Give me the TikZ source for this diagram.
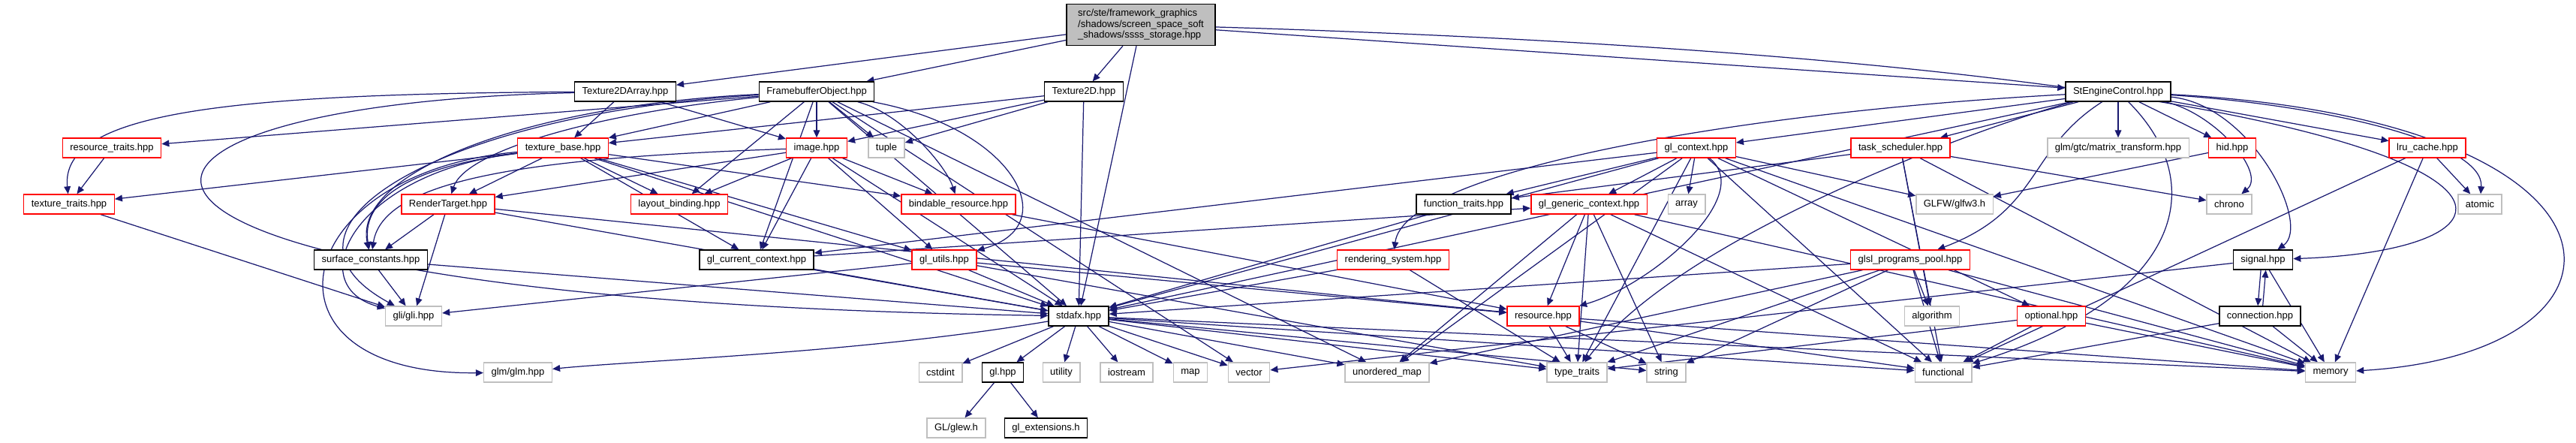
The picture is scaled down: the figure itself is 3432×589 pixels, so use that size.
\documentclass[tikz,border=0pt]{standalone}
\usepackage{fontspec}
\setmainfont{Liberation Sans}
\usepackage{tikz}
\usetikzlibrary{positioning,arrows.meta}
\definecolor{edgeblue}{RGB}{25,25,112}
\definecolor{grey75}{RGB}{191,191,191}
\pgfdeclarelayer{edges}
\pgfsetlayers{edges,main}

\begin{document}
\begin{tikzpicture}[x=0.02cm,y=-0.02cm,font=\fontsize{7.4}{8.2}\selectfont,
  file/.style={draw,fill=white,line width=0.8pt,inner xsep=0.2cm,inner ysep=0pt,minimum height=0.52cm},
  doc/.style={file,draw=black},
  trunc/.style={file,draw=red},
  sys/.style={file,draw=grey75},
  rootbox/.style={file,draw=black,fill=grey75,align=left,minimum width=3.96cm,minimum height=1.1cm},
  arr/.style={-{Triangle[length=5.7pt,width=5pt]},edgeblue,line width=0.7pt}]
\useasboundingbox (0,0) rectangle (3432,589);
\node[rootbox] (root) at (1520,33) {src/ste/framework\_graphics\\/shadows/screen\_space\_soft\\\_shadows/ssss\_storage.hpp};
\node[doc] (t2da) at (833,122) {Texture2DArray.hpp};
\node[doc] (fbo) at (1088,122) {FramebufferObject.hpp};
\node[doc] (t2d) at (1444,122) {Texture2D.hpp};
\node[doc] (sec) at (2822,122) {StEngineControl.hpp};
\node[trunc] (rtr) at (149,197) {resource\_traits.hpp};
\node[trunc] (tbase) at (750,197) {texture\_base.hpp};
\node[trunc] (image) at (1088,197) {image.hpp};
\node[sys] (tuple) at (1181,197) {tuple};
\node[trunc] (glctx) at (2260,197) {gl\_context.hpp};
\node[trunc] (tsched) at (2532,197) {task\_scheduler.hpp};
\node[sys] (mtx) at (2822,197) {glm/gtc/matrix\_transform.hpp};
\node[trunc] (hid) at (2974,197) {hid.hpp};
\node[trunc] (lru) at (3234,197) {lru\_cache.hpp};
\node[trunc] (ttr) at (92,272) {texture\_traits.hpp};
\node[trunc] (rt) at (597,272) {RenderTarget.hpp};
\node[trunc] (lb) at (905,272) {layout\_binding.hpp};
\node[trunc] (bres) at (1277,272) {bindable\_resource.hpp};
\node[doc] (ftr) at (1950,272) {function\_traits.hpp};
\node[trunc] (ggc) at (2117,272) {gl\_generic\_context.hpp};
\node[sys] (array) at (2247,272) {array};
\node[sys] (glfw) at (2604,272) {GLFW/glfw3.h};
\node[sys] (chrono) at (2970,272) {chrono};
\node[sys] (atomic) at (3304,272) {atomic};
\node[doc] (sc) at (494,346) {surface\_constants.hpp};
\node[doc] (gcc) at (1008,346) {gl\_current\_context.hpp};
\node[trunc] (glu) at (1258,346) {gl\_utils.hpp};
\node[trunc] (rsys) at (1856,346) {rendering\_system.hpp};
\node[trunc] (gpp) at (2545,346) {glsl\_programs\_pool.hpp};
\node[doc] (signal) at (3015,346) {signal.hpp};
\node[sys] (gli) at (551,421) {gli/gli.hpp};
\node[doc] (stdafx) at (1437,421) {stdafx.hpp};
\node[trunc] (res) at (2056,421) {resource.hpp};
\node[sys] (algo) at (2574,421) {algorithm};
\node[trunc] (opt) at (2733,421) {optional.hpp};
\node[doc] (conn) at (3011,421) {connection.hpp};
\node[sys] (glm) at (690,496) {glm/glm.hpp};
\node[sys] (cstdint) at (1253,496) {cstdint};
\node[doc] (glhpp) at (1336,496) {gl.hpp};
\node[sys] (utility) at (1414,496) {utility};
\node[sys] (iostream) at (1501,496) {iostream};
\node[sys] (map) at (1586,496) {map};
\node[sys] (vector) at (1664,496) {vector};
\node[sys] (umap) at (1848,496) {unordered\_map};
\node[sys] (ttraits) at (2101,496) {type\_traits};
\node[sys] (string) at (2220,496) {string};
\node[sys] (func) at (2589,496) {functional};
\node[sys] (memory) at (3105,496) {memory};
\node[sys] (glew) at (1274,570) {GL/glew.h};
\node[doc,right=0.48cm of glew] (glext) {gl\_extensions.h};
\begin{pgfonlayer}{edges}
\draw[arr] (root)--(t2da); \draw[arr] (root)--(fbo); \draw[arr] (root)--(t2d);
\draw[arr] (root)--(stdafx); \draw[arr] (root)--(sec);
\draw[arr] (root) .. controls (3420,90) and (3470,330) .. (signal);
\draw[arr] (t2da)--(tbase); \draw[arr] (t2da)--(image);
\draw[arr] (t2da) .. controls (300,125) and (80,150) .. (ttr);
\draw[arr] (t2da) .. controls (30,140) and (10,400) .. (stdafx);
\draw[arr] (fbo)--(image); \draw[arr] (fbo)--(tbase); \draw[arr] (fbo)--(tuple);
\draw[arr] (fbo)--(lb); \draw[arr] (fbo)--(gcc); \draw[arr] (fbo)--(rtr);
\draw[arr] (fbo) .. controls (800,150) and (620,200) .. (rt);
\draw[arr] (fbo) .. controls (700,140) and (470,230) .. (sc);
\draw[arr] (fbo) .. controls (600,150) and (330,300) .. (gli);
\draw[arr] (fbo) .. controls (1200,150) and (1260,220) .. (bres);
\draw[arr] (fbo) .. controls (1350,170) and (1420,300) .. (glu);
\draw[arr] (fbo)--(stdafx); \draw[arr] (fbo)--(vector); \draw[arr] (fbo)--(umap);
\draw[arr] (t2d)--(tbase); \draw[arr] (t2d)--(image); \draw[arr] (t2d)--(tuple); \draw[arr] (t2d)--(stdafx);
\draw[arr] (sec)--(tsched); \draw[arr] (sec)--(mtx); \draw[arr] (sec)--(hid); \draw[arr] (sec)--(lru);
\draw[arr] (sec) .. controls (2950,150) and (3020,230) .. (chrono);
\draw[arr] (sec) .. controls (3100,140) and (3310,190) .. (atomic);
\draw[arr] (sec) .. controls (3540,160) and (3540,470) .. (memory);
\draw[arr] (sec) .. controls (3000,140) and (3080,300) .. (signal);
\draw[arr] (sec)--(glctx); \draw[arr] (sec)--(stdafx);
\draw[arr] (sec) .. controls (2700,200) and (2720,280) .. (gpp);
\draw[arr] (sec) .. controls (2300,150) and (1870,230) .. (rsys);
\draw[arr] (sec) .. controls (2950,250) and (2900,400) .. (func);
\draw[arr] (sec) .. controls (2700,150) and (2250,300) .. (ttraits);
\draw[arr] (glctx)--(array); \draw[arr] (glctx)--(ggc); \draw[arr] (glctx)--(ftr); \draw[arr] (glctx)--(glfw);
\draw[arr] (glctx)--(stdafx); \draw[arr] (glctx)--(gcc); \draw[arr] (glctx)--(opt); \draw[arr] (glctx)--(func);
\draw[arr] (glctx) .. controls (2340,260) and (2200,380) .. (res);
\draw[arr] (glctx)--(ttraits); \draw[arr] (glctx)--(umap); \draw[arr] (glctx)--(memory);
\draw[arr] (ggc)--(res); \draw[arr] (ggc)--(ttraits); \draw[arr] (ggc)--(string); \draw[arr] (ggc)--(umap);
\draw[arr] (ggc)--(func); \draw[arr] (ggc)--(memory);
\draw[arr] (tsched)--(ftr); \draw[arr] (tsched)--(chrono); \draw[arr] (tsched)--(func);
\draw[arr] (tsched)--(memory); \draw[arr] (tsched)--(algo);
\draw[arr] (hid)--(glfw);
\draw[arr] (lru)--(atomic); \draw[arr] (lru)--(memory); \draw[arr] (lru)--(func);
\draw[arr] (signal.258)--(conn.102); \draw[arr] (conn.75)--(signal.285);
\draw[arr] (signal)--(memory); \draw[arr] (signal)--(vector);
\draw[arr] (conn)--(memory); \draw[arr] (conn)--(func);
\draw[arr] (gpp)--(algo); \draw[arr] (gpp)--(func); \draw[arr] (gpp)--(memory); \draw[arr] (gpp)--(string);
\draw[arr] (gpp)--(ttraits); \draw[arr] (gpp)--(stdafx); \draw[arr] (gpp)--(umap);
\draw[arr] (opt)--(func); \draw[arr] (opt)--(memory); \draw[arr] (opt)--(ttraits);
\draw[arr] (tbase)--(lb); \draw[arr] (tbase)--(rt); \draw[arr] (tbase)--(gcc); \draw[arr] (tbase)--(glu);
\draw[arr] (tbase)--(stdafx); \draw[arr] (tbase)--(ttr); \draw[arr] (tbase)--(bres);
\draw[arr] (tbase) .. controls (560,220) and (480,260) .. (sc);
\draw[arr] (tbase) .. controls (470,230) and (400,380) .. (gli);
\draw[arr] (tbase) .. controls (380,230) and (330,500) .. (glm);
\draw[arr] (image)--(lb); \draw[arr] (image)--(rt); \draw[arr] (image)--(gcc); \draw[arr] (image)--(stdafx);
\draw[arr] (image)--(glu); \draw[arr] (image)--(bres);
\draw[arr] (image) .. controls (700,210) and (510,240) .. (sc);
\draw[arr] (rt)--(sc); \draw[arr] (rt)--(gli); \draw[arr] (rt)--(stdafx); \draw[arr] (rt)--(res);
\draw[arr] (sc)--(gli); \draw[arr] (sc)--(stdafx);
\draw[arr] (bres)--(res);
\draw[arr] (glu)--(stdafx); \draw[arr] (glu)--(gli); \draw[arr] (glu)--(res); \draw[arr] (glu)--(ttraits);
\draw[arr] (gcc)--(stdafx); \draw[arr] (gcc)--(ggc);
\draw[arr] (rsys)--(stdafx); \draw[arr] (rsys)--(ttraits);
\draw[arr] (res)--(ttraits); \draw[arr] (res)--(func); \draw[arr] (res)--(memory); \draw[arr] (res)--(string);
\draw[arr] (rtr)--(ttr); \draw[arr] (ttr)--(gli); \draw[arr] (ftr)--(stdafx);
\draw[arr] (stdafx)--(cstdint); \draw[arr] (stdafx)--(glhpp); \draw[arr] (stdafx)--(utility);
\draw[arr] (stdafx)--(iostream); \draw[arr] (stdafx)--(map); \draw[arr] (stdafx)--(vector);
\draw[arr] (stdafx)--(umap); \draw[arr] (stdafx)--(ttraits); \draw[arr] (stdafx)--(string);
\draw[arr] (stdafx)--(memory); \draw[arr] (stdafx)--(func);
\draw[arr] (stdafx) .. controls (1150,470) and (850,480) .. (glm);
\draw[arr] (glhpp)--(glew); \draw[arr] (glhpp)--(glext);
\end{pgfonlayer}
\end{tikzpicture}
\end{document}
